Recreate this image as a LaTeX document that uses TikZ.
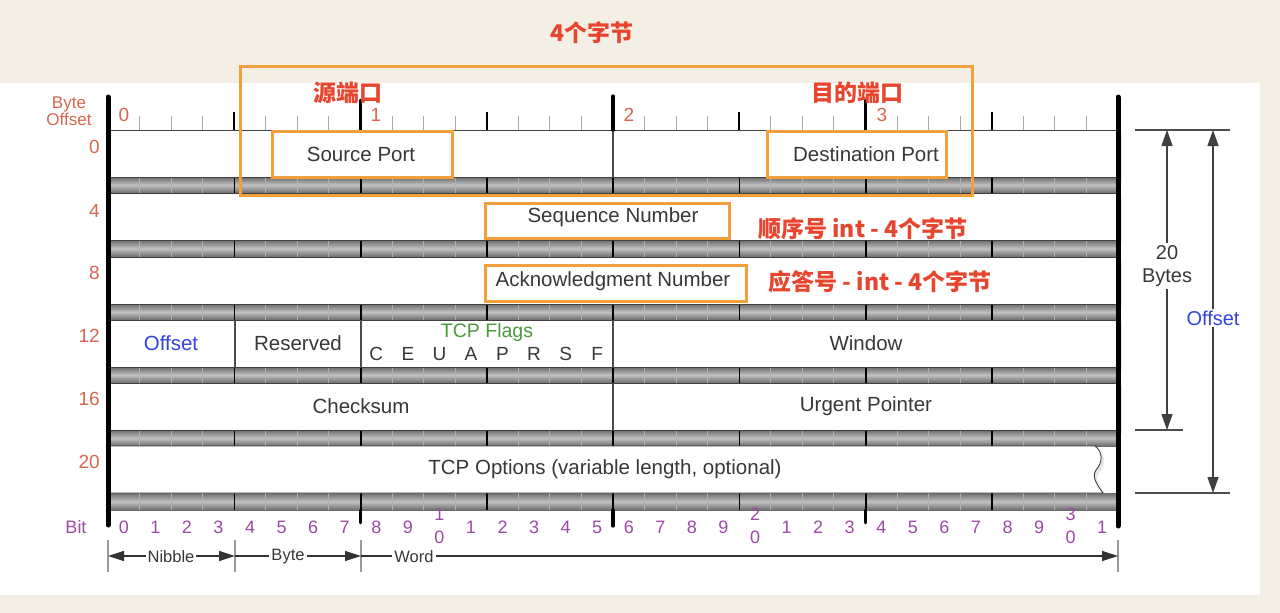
\documentclass[tikz,border=0pt]{standalone}
\usepackage{fontspec}
\setmainfont{Liberation Sans}
\newfontfamily\cjk{Noto Sans CJK SC}
\usetikzlibrary{arrows.meta}
\definecolor{bg}{HTML}{F4EFE4}
\definecolor{offred}{HTML}{D9654F}
\definecolor{bitpurple}{HTML}{9B4BA3}
\definecolor{annored}{HTML}{E8452F}
\definecolor{annoorange}{HTML}{F2A03D}
\definecolor{offblue}{HTML}{3344DD}
\definecolor{flaggreen}{HTML}{4A9A3A}
\definecolor{txt}{HTML}{383838}
\begin{document}
\begin{tikzpicture}[x=1pt,y=-1pt,
  fieldtxt/.style={font=\fontsize{20.5}{24}\selectfont, text=txt, inner sep=0pt},
  rowlbl/.style={font=\fontsize{19}{22}\selectfont, text=offred, anchor=east, inner sep=0pt},
  bytelbl/.style={font=\fontsize{19}{22}\selectfont, text=offred, inner sep=0pt},
  bitlbl/.style={font=\fontsize{18}{23}\selectfont, text=bitpurple, inner sep=0pt, align=center},
  anno/.style={font=\cjk\bfseries\fontsize{23}{25}\selectfont, text=annored, inner sep=0pt},
  obox/.style={draw=annoorange, line width=3pt},
  rowbox/.style={fill=white, draw=black!75, line width=0.9pt},
  stripfill/.style={top color=black!58, bottom color=black!58, middle color=black!24},
  divider/.style={draw=black!70, line width=1.3pt},
  dimline/.style={draw=black!70, line width=1.2pt},
  dimarrow/.style={draw=black!75, line width=1.2pt, {Triangle[length=16pt,width=11pt]}-{Triangle[length=16pt,width=11pt]}},
  unittxt/.style={font=\fontsize{16.5}{20}\selectfont, text=txt, fill=white, inner sep=2pt},
  flagtxt/.style={font=\fontsize{19}{22}\selectfont, text=txt, inner sep=0pt}
]
\useasboundingbox (0,0) rectangle (1280,613);
\fill[bg] (0,0) rectangle (1280,613);
\fill[white] (0,83) rectangle (1260,595);

% shadows of rows
\foreach \ya/\yb in {130/177,193/240,257/304,320/367,383/430}
  \fill[black,opacity=0.10] (111,\ya+3) rectangle (1122,\yb+4);
\fill[black,opacity=0.10] (111,449) -- (1098,449) .. controls (1106,455) and (1106,465) .. (1099,473) .. controls (1094,480) and (1101,489) .. (1107,497) -- (111,497) -- cycle;

% strips
\foreach \ya/\yb in {177/193,240/257,304/320,367/383,430/446,493/510}{
  \shade[stripfill] (108,\ya) rectangle (1118,\yb);
  \foreach \i in {1,...,31}
    \draw[gray!60, line width=0.9pt] ({108+31.5625*\i},\ya) -- ({108+31.5625*\i},\yb);
  \foreach \i in {4,12,20,28}
    \draw[black, line width=1.5pt] ({108+31.5625*\i},\ya) -- ({108+31.5625*\i},\yb);
  \foreach \i in {8,24}
    \draw[black, line width=2pt] ({108+31.5625*\i},\ya) -- ({108+31.5625*\i},\yb);
  \draw[black, line width=2.8pt] (613,\ya) -- (613,\yb);
}

% rows
\foreach \ya/\yb in {130/177,193/240,257/304,320/367,383/430}
  \draw[rowbox] (108,\ya) rectangle (1118,\yb);
\draw[rowbox] (108,446) -- (1095,446) .. controls (1103,452) and (1103,462) .. (1096,470) .. controls (1091,477) and (1098,486) .. (1103,493) -- (108,493) -- cycle;

% dividers inside rows
\draw[divider] (613,130) -- (613,177);
\draw[divider] (235,320) -- (235,367);
\draw[divider] (361,320) -- (361,367);
\draw[divider] (613,320) -- (613,367);
\draw[divider] (613,383) -- (613,430);

% top ruler
\foreach \i in {1,...,31}
  \draw[gray!65, line width=0.9pt] ({108+31.5625*\i},116) -- ({108+31.5625*\i},130);
\foreach \i in {4,12,20,28}
  \draw[black, line width=1.7pt] ({108+31.5625*\i},112) -- ({108+31.5625*\i},130);
\foreach \i in {8,24}
  \draw[black, line width=2.6pt, line cap=round] ({108+31.5625*\i},100) -- ({108+31.5625*\i},130);
\draw[black, line width=3.2pt, line cap=round] (613,96) -- (613,130);

% bottom ruler extensions
\foreach \i in {8,24}
  \draw[black, line width=2.6pt, line cap=round] ({108+31.5625*\i},510) -- ({108+31.5625*\i},523);
\draw[black, line width=3.2pt, line cap=round] (613,510) -- (613,526);

% thick side bars
\draw[black, line width=5pt, line cap=round] (108,97) -- (108,525);
\draw[black, line width=5pt, line cap=round] (1118,97) -- (1118,526);

% byte offset labels
\node[font=\fontsize{17}{20}\selectfont, text=offred, align=center, inner sep=0pt] (byteoff) at (69,111) {Byte\\[-3pt]Offset};
\node[bytelbl] (b0) at (124,115) {0};
\node[bytelbl] (b1) at (376,115) {1};
\node[bytelbl] (b2) at (629,115) {2};
\node[bytelbl] (b3) at (882,115) {3};
\node[rowlbl] (r0) at (100,147) {0};
\node[rowlbl] (r4) at (100,211) {4};
\node[rowlbl] (r8) at (100,273) {8};
\node[rowlbl] (r12) at (100,336) {12};
\node[rowlbl] (r16) at (100,399) {16};
\node[rowlbl] (r20) at (100,462) {20};

% field texts
\node[fieldtxt] (srcport) at (361,154) {Source Port};
\node[fieldtxt] (dstport) at (866,154) {Destination Port};
\node[fieldtxt] (seqnum) at (613,217) {Sequence Number};
\node[fieldtxt] (acknum) at (613,281) {Acknowledgment Number};
\node[fieldtxt, text=offblue] (offset) at (171,343) {Offset};
\node[fieldtxt] (reserved) at (298,343) {Reserved};
\node[fieldtxt, text=flaggreen, font=\fontsize{19.5}{22}\selectfont] (flags) at (487,332) {TCP Flags};
\foreach \l [count=\k from 8] in {C,E,U,A,P,R,S,F}
  \node[flagtxt] (flag\k) at ({108+31.5625*(\k+0.5)},354) {\l};
\node[fieldtxt] (window) at (866,343) {Window};
\node[fieldtxt] (checksum) at (361,406) {Checksum};
\node[fieldtxt] (urgent) at (866,406) {Urgent Pointer};
\node[fieldtxt] (options) at (605,469) {TCP Options (variable length, optional)};

% bit labels
\node[bitlbl] (bitword) at (76,527) {Bit};
\foreach \i/\d in {0/0,1/1,2/2,3/3,4/4,5/5,6/6,7/7,8/8,9/9,11/1,12/2,13/3,14/4,15/5,16/6,17/7,18/8,19/9,21/1,22/2,23/3,24/4,25/5,26/6,27/7,28/8,29/9,31/1}
  \node[bitlbl] (bit\i) at ({108+31.5625*(\i+0.5)},527) {\d};
\foreach \i/\d in {10/1,20/2,30/3}
  \node[bitlbl] (bit\i) at ({108+31.5625*(\i+0.5)},526) {\d\\0};

% nibble / byte / word
\coordinate (u0) at (108,556);
\coordinate (u1) at (235,556);
\coordinate (u2) at (361,556);
\coordinate (u3) at (1118,556);
\foreach \x in {108,235,361,1118}
  \draw[gray!80, line width=1.3pt] (\x,540) -- (\x,572);
\draw[black!80, line width=1.2pt, {Triangle[length=16pt,width=10pt]}-{Triangle[length=16pt,width=10pt]}] (u0) -- (u1);
\draw[black!80, line width=1.2pt, -{Triangle[length=16pt,width=10pt]}] (u1) -- (u2);
\draw[black!80, line width=1.2pt, -{Triangle[length=16pt,width=10pt]}] (u2) -- (u3);
\node[unittxt] (nibble) at (171,557) {Nibble};
\node[unittxt] (byte) at (288,557) {Byte};
\node[unittxt] (word) at (414,557) {Word};

% right dimensions
\coordinate (eTa) at (1135,130); \coordinate (eTb) at (1230,130);
\coordinate (eMa) at (1135,430); \coordinate (eMb) at (1183,430);
\coordinate (eBa) at (1135,493); \coordinate (eBb) at (1230,493);
\draw[dimline] (eTa) -- (eTb);
\draw[dimline] (eMa) -- (eMb);
\draw[dimline] (eBa) -- (eBb);
\coordinate (d20t) at (1167,130); \coordinate (d20b) at (1167,430);
\coordinate (dOt) at (1213,130); \coordinate (dOb) at (1213,493);
\draw[dimarrow] (d20t) -- (d20b);
\draw[dimarrow] (dOt) -- (dOb);
\node[font=\fontsize{20}{23}\selectfont, text=txt, fill=white, align=center, inner sep=2pt] (twenty) at (1167,266) {20\\Bytes};
\node[font=\fontsize{20}{23}\selectfont, text=offblue, fill=white, inner sep=2pt] (offsetdim) at (1213,318) {Offset};

% annotations
\draw[obox] (240,66) rectangle (972,195);
\draw[obox] (272,131) rectangle (452,177);
\draw[obox] (767,131) rectangle (946,177);
\draw[obox] (485,203) rectangle (729,238);
\draw[obox] (485,265) rectangle (746,301);
\node[anno] (a4b) at (592,33) {4个字节};
\node[anno] (asrc) at (348,93) {源端口};
\node[anno] (adst) at (857,93) {目的端口};
\node[anno] (aseq) at (863,229) {顺序号 int - 4个字节};
\node[anno] (aack) at (880,282) {应答号 - int - 4个字节};
\end{tikzpicture}
\end{document}
